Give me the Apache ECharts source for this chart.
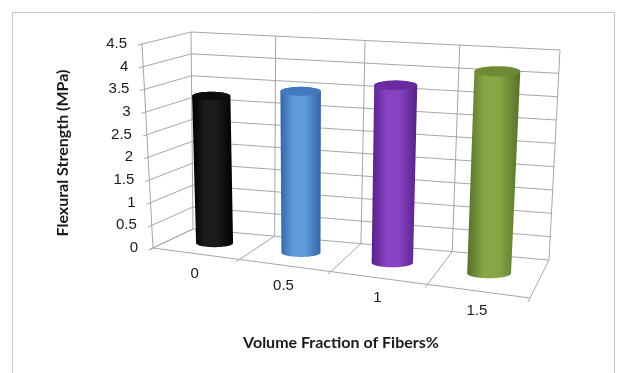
<!DOCTYPE html>
<html>
<head>
<meta charset="utf-8">
<script src="https://cdn.jsdelivr.net/npm/echarts@6/dist/echarts.min.js"></script>
<style>
  html, body { margin: 0; padding: 0; background: #ffffff; }
  #chart { width: 629px; height: 373px; }
</style>
</head>
<body>
<div id="chart"></div>
<script>
// Flexural strength against fibre volume fraction (3-D cylinder column chart)
const categories = ['0', '0.5', '1', '1.5'];
const strength = [3.28, 3.55, 3.85, 4.32];
const valueTicks = [0, 0.5, 1, 1.5, 2, 2.5, 3, 3.5, 4, 4.5];
const tickLabels = ['0', '0.5', '1', '1.5', '2', '2.5', '3', '3.5', '4', '4.5'];

// Cylinder shading: side edge, side highlight, lid
const palette = [
  { edge: '#000000', mid: '#1c1c1c', lid: '#0c0c0c' },
  { edge: '#3566a6', mid: '#5e9bdb', lid: '#4279bf' },
  { edge: '#57208a', mid: '#8743c2', lid: '#6a2aa1' },
  { edge: '#56702a', mid: '#87a745', lid: '#6e8b34' }
];

const GRID_COLOR = '#a6a6a6';
const TEXT_COLOR = '#1a1a1a';

// Screen corners of the 3-D plot box (f/b = front/back, 0/1 = floor/top, l/r = left/right)
const BOX = {
  fl0: [153, 248], fr0: [530, 298], bl0: [193, 229], br0: [549, 260],
  fl1: [142, 44],  fr1: [541, 84],  bl1: [191, 32],  br1: [560, 50]
};
const FORESHORTEN = 1.12;   // right-hand end of the box is nearer the viewer
const BAR_RADIUS = 0.055;   // cylinder radius as a fraction of the box width
const LID_RATIO = 0.22;     // apparent height / width of a cylinder's end

function lerp2(a, b, t) { return [a[0] + (b[0] - a[0]) * t, a[1] + (b[1] - a[1]) * t]; }
// u: across categories, h: value fraction, d: depth (0 front, 1 back)
function project(u, h, d) {
  const s = u / (FORESHORTEN - (FORESHORTEN - 1) * u);
  const f0 = lerp2(BOX.fl0, BOX.fr0, s), f1 = lerp2(BOX.fl1, BOX.fr1, s);
  const b0 = lerp2(BOX.bl0, BOX.br0, s), b1 = lerp2(BOX.bl1, BOX.br1, s);
  return lerp2(lerp2(f0, b0, d), lerp2(f1, b1, d), h);
}
// Position of a data point as fractions of the (hidden) cartesian grid
function frac(params, api, x, y) {
  const p = api.coord([x, y]);
  const cs = params.coordSys;
  return [(p[0] - cs.x) / cs.width, (cs.y + cs.height - p[1]) / cs.height];
}
function seg(a, b) {
  return {
    type: 'line',
    shape: { x1: a[0], y1: a[1], x2: b[0], y2: b[1] },
    style: { stroke: GRID_COLOR, lineWidth: 1 }
  };
}
function hull(pts) {
  const p = pts.slice().sort((a, b) => a[0] - b[0] || a[1] - b[1]);
  const cross = (o, a, b) => (a[0] - o[0]) * (b[1] - o[1]) - (a[1] - o[1]) * (b[0] - o[0]);
  const lower = [], upper = [];
  for (const q of p) {
    while (lower.length >= 2 && cross(lower[lower.length - 2], lower[lower.length - 1], q) <= 0) lower.pop();
    lower.push(q);
  }
  for (let i = p.length - 1; i >= 0; i--) {
    const q = p[i];
    while (upper.length >= 2 && cross(upper[upper.length - 2], upper[upper.length - 1], q) <= 0) upper.pop();
    upper.push(q);
  }
  upper.pop(); lower.pop();
  return lower.concat(upper);
}

// Walls: one horizontal gridline per value tick on back and side walls
function renderValueGrid(params, api) {
  const h = frac(params, api, 0, api.value(1))[1];
  const front = project(0, h, 0);
  return {
    type: 'group',
    children: [
      seg(project(0, h, 1), project(1, h, 1)),
      seg(project(0, h, -0.09), project(0, h, 1)),
      {
        type: 'text',
        x: front[0] - 15, y: front[1],
        style: {
          text: tickLabels[params.dataIndex], fill: TEXT_COLOR,
          font: '15px "Liberation Sans", Arial, sans-serif',
          align: 'right', verticalAlign: 'middle', textAlign: 'right', textVerticalAlign: 'middle'
        }
      }
    ]
  };
}

// Category boundaries: back-wall verticals and floor dividers
function renderBoundaries(params, api) {
  const i = api.value(0);
  const u = i / categories.length;
  const top = frac(params, api, 0, valueTicks[valueTicks.length - 1])[1];
  const children = [
    seg(project(u, 0, 1), project(u, top, 1)),
    seg(project(u, 0, -0.1), project(u, 0, 1))
  ];
  if (i === 0) {
    children.push(seg(project(0, 0, 0), project(0, top, 0)));
    children.push(seg(project(0, 0, 0), project(1, 0, 0)));
  }
  return { type: 'group', children: children };
}

// Category labels under the front floor edge
function renderCategoryLabels(params, api) {
  const u = frac(params, api, api.value(0), 0)[0];
  const p = project(u, 0, 0);
  return {
    type: 'text',
    x: p[0] - 1, y: p[1] + 20,
    style: {
      text: categories[params.dataIndex], fill: TEXT_COLOR,
      font: '15px "Liberation Sans", Arial, sans-serif',
      align: 'center', verticalAlign: 'middle', textAlign: 'center', textVerticalAlign: 'middle'
    }
  };
}

// Ellipse outline of a cylinder end at value fraction h (follows the box's perspective)
function cylinderEnd(u, h) {
  const l = project(u - BAR_RADIUS, h, 0.5);
  const r = project(u + BAR_RADIUS, h, 0.5);
  const cx = (l[0] + r[0]) / 2, cy = (l[1] + r[1]) / 2;
  const rx = (r[0] - l[0]) / 2, ry = rx * LID_RATIO;
  const pts = [];
  for (let k = 0; k < 72; k++) {
    const t = (k / 72) * Math.PI * 2;
    pts.push([cx + rx * Math.cos(t), cy + ry * Math.sin(t)]);
  }
  return pts;
}

// Cylinders standing on the floor at mid depth
function renderCylinder(params, api) {
  const idx = api.value(0);
  const top = frac(params, api, idx, api.value(1));
  const base = frac(params, api, idx, 0);
  const bottomEnd = cylinderEnd(top[0], base[1]);
  const lid = cylinderEnd(top[0], top[1]);
  const c = palette[params.dataIndex % palette.length];
  const body = new echarts.graphic.LinearGradient(0, 0, 1, 0, [
    { offset: 0, color: c.edge },
    { offset: 0.32, color: c.mid },
    { offset: 0.6, color: c.mid },
    { offset: 1, color: c.edge }
  ]);
  return {
    type: 'group',
    children: [
      { type: 'polygon', shape: { points: hull(bottomEnd.concat(lid)) }, style: { fill: body } },
      { type: 'polygon', shape: { points: lid }, style: { fill: c.lid } }
    ]
  };
}

const chart = echarts.init(document.getElementById('chart'), null, { renderer: 'canvas' });
chart.setOption({
  backgroundColor: '#ffffff',
  animation: false,
  grid: { left: 0, top: 0, width: 400, height: 400, show: false },
  xAxis: { type: 'category', data: categories, show: false },
  yAxis: { type: 'value', min: 0, max: 4.5, interval: 0.5, show: false },
  graphic: [
    {
      type: 'polyline',
      shape: { points: [[12.5, 400], [12.5, 12.5], [614.5, 12.5], [614.5, 400]] },
      style: { stroke: '#c4c4c4', lineWidth: 1, fill: null }
    },
    {
      type: 'text', x: 63, y: 153, rotation: Math.PI / 2,
      style: {
        text: 'Flexural Strength (MPa)', fill: TEXT_COLOR, font: 'bold 16px Lato, "Open Sans", sans-serif',
        align: 'center', verticalAlign: 'middle', textAlign: 'center', textVerticalAlign: 'middle'
      }
    },
    {
      type: 'text', x: 341, y: 343,
      style: {
        text: 'Volume Fraction of Fibers%', fill: TEXT_COLOR, font: 'bold 16px Lato, "Open Sans", sans-serif',
        align: 'center', verticalAlign: 'middle', textAlign: 'center', textVerticalAlign: 'middle'
      }
    }
  ],
  series: [
    {
      type: 'custom', name: 'value grid', silent: true,
      renderItem: renderValueGrid,
      data: valueTicks.map(v => [0, v])
    },
    {
      type: 'custom', name: 'category grid', silent: true,
      renderItem: renderBoundaries,
      data: [0, 1, 2, 3, 4].map(i => [i, 0])
    },
    {
      type: 'custom', name: 'category labels', silent: true,
      renderItem: renderCategoryLabels,
      data: categories.map((c, i) => [i, 0])
    },
    {
      type: 'custom', name: 'Flexural Strength',
      renderItem: renderCylinder,
      data: strength.map((v, i) => [i, v])
    }
  ]
});
</script>
</body>
</html>
